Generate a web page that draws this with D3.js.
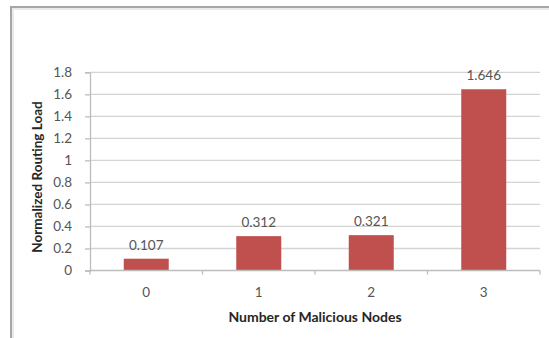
<!DOCTYPE html>
<html>
<head>
<meta charset="utf-8">
<script src="https://cdn.jsdelivr.net/npm/d3@7/dist/d3.min.js"></script>
<style>
  html, body { margin: 0; padding: 0; background: #fff; }
  svg { display: block; }
  text { font-family: Lato, "Open Sans", "Liberation Sans", sans-serif; }
</style>
</head>
<body>
<svg id="chart" width="549" height="338"></svg>
<script>
// Routing load against number of malicious nodes
const categories = ["0", "1", "2", "3"];
const routingLoad = [0.107, 0.312, 0.321, 1.646];
const yTicks = [0, 0.2, 0.4, 0.6, 0.8, 1, 1.2, 1.4, 1.6, 1.8];
const xTitle = "Number of Malicious Nodes";
const yTitle = "Normalized Routing Load";

const svg = d3.select("#chart");
const W = 549, H = 338;
const plot = { left: 90, right: 540, top: 72.3, bottom: 270.5 };
const labelSize = "13.5px";
const titleSize = "13.5px";

// outer frame (top and left edges)
svg.append("path")
  .attr("d", `M11,${H} L11,7 L${W},7`)
  .attr("fill", "none")
  .attr("stroke", "#a6a6a6")
  .attr("stroke-width", 2);
svg.append("path")
  .attr("d", `M13,${H} L13,9 L${W},9`)
  .attr("fill", "none")
  .attr("stroke", "#e4e4e4")
  .attr("stroke-width", 1.5);

const x = d3.scaleBand().domain(categories).range([plot.left, plot.right]).padding(0);
const y = d3.scaleLinear().domain([0, 1.8]).range([plot.bottom, plot.top]);

// horizontal gridlines
svg.append("g")
  .selectAll("line")
  .data(yTicks.filter(d => d > 0))
  .join("line")
  .attr("x1", plot.left).attr("x2", plot.right)
  .attr("y1", d => y(d)).attr("y2", d => y(d))
  .attr("stroke", "#d4d4d4")
  .attr("stroke-width", 1.3);

// y axis
const yAxis = svg.append("g")
  .attr("transform", `translate(${plot.left},0)`)
  .call(d3.axisLeft(y).tickValues(yTicks).tickSize(5).tickPadding(13)
    .tickFormat(d => d3.format("~g")(d)));
yAxis.select(".domain").attr("stroke", "#bdbdbd").attr("stroke-width", 1.3);
yAxis.selectAll(".tick line").attr("stroke", "#bdbdbd").attr("stroke-width", 1.3);
yAxis.selectAll(".tick text")
  .attr("fill", "#555555")
  .style("font-size", labelSize);

// bars
const barW = x.bandwidth() * 0.4;
svg.append("g")
  .selectAll("rect")
  .data(routingLoad)
  .join("rect")
  .attr("x", (d, i) => x(categories[i]) + (x.bandwidth() - barW) / 2)
  .attr("width", barW)
  .attr("y", d => y(d))
  .attr("height", d => y(0) - y(d))
  .attr("fill", "#c0504d");

// x axis with boundary ticks
const xAxisG = svg.append("g").attr("transform", `translate(0,${plot.bottom})`);
xAxisG.append("line")
  .attr("x1", plot.left).attr("x2", plot.right)
  .attr("stroke", "#bdbdbd").attr("stroke-width", 1.3);
const bounds = categories.map(c => x(c)).concat([plot.right]);
xAxisG.selectAll("line.b")
  .data(bounds)
  .join("line")
  .attr("class", "b")
  .attr("x1", d => d).attr("x2", d => d)
  .attr("y1", 0).attr("y2", 4)
  .attr("stroke", "#bdbdbd").attr("stroke-width", 1.3);
xAxisG.selectAll("text")
  .data(categories)
  .join("text")
  .attr("x", d => x(d) + x.bandwidth() / 2)
  .attr("y", 26)
  .attr("text-anchor", "middle")
  .attr("fill", "#555555")
  .style("font-size", labelSize)
  .text(d => d);

// value labels
svg.append("g")
  .selectAll("text")
  .data(routingLoad)
  .join("text")
  .attr("x", (d, i) => x(categories[i]) + x.bandwidth() / 2)
  .attr("y", d => y(d) - 9)
  .attr("text-anchor", "middle")
  .attr("fill", "#555555")
  .style("font-size", labelSize)
  .text(d => d3.format(".3f")(d));

// axis titles
svg.append("text")
  .attr("x", 315)
  .attr("y", 321.5)
  .attr("text-anchor", "middle")
  .attr("fill", "#262626")
  .style("font-size", "14px")
  .style("font-weight", "bold")
  .text(xTitle);

svg.append("text")
  .attr("transform", `translate(42,177) rotate(-90)`)
  .attr("text-anchor", "middle")
  .attr("fill", "#262626")
  .style("font-size", titleSize)
  .style("font-weight", "bold")
  .text(yTitle);
</script>
</body>
</html>
